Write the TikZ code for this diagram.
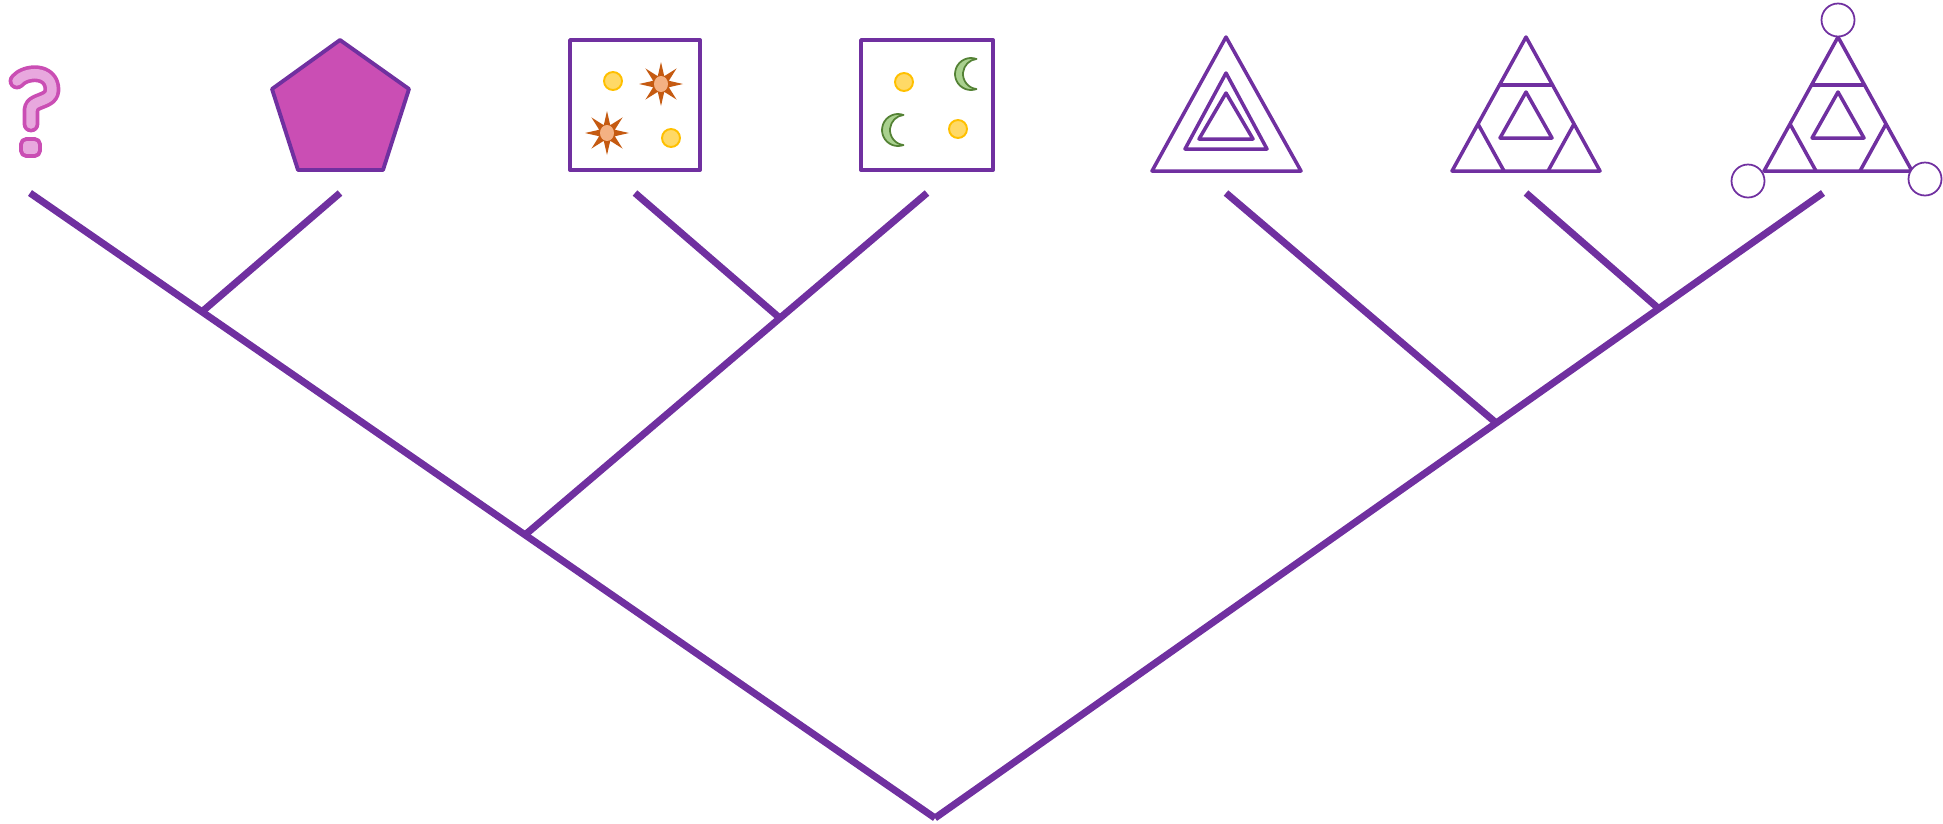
\documentclass[tikz,border=0pt]{standalone}
\usetikzlibrary{shapes.geometric,calc}
\definecolor{pourpre}{HTML}{7030A0}
\definecolor{rosefonce}{HTML}{CA4EB4}
\definecolor{roseclair}{HTML}{E8A8DE}
\definecolor{jaune}{HTML}{FFD966}
\definecolor{orjaune}{HTML}{FFC000}
\definecolor{orangefonce}{HTML}{C55A11}
\definecolor{orangeclair}{HTML}{F4B183}
\definecolor{vertclair}{HTML}{A9D18E}
\definecolor{vertfonce}{HTML}{548235}
\tikzset{
  branche/.style={draw=pourpre,line width=4pt},
  forme/.style={draw=pourpre,line width=2pt},
  cadre/.style={draw=pourpre,line width=2.2pt},
  soleil/.style={fill=jaune,draw=orjaune,line width=1.1pt},
  lune/.style={fill=vertclair,draw=vertfonce,line width=1pt},
  etoile/.style={star,star points=8,star point ratio=2.6,minimum size=0.88cm,inner sep=0pt,fill=orangefonce},
  anneau/.style={draw=pourpre,fill=white,line width=1pt}
}
% triangle decoupe (x du sommet)
\newcommand{\triinscrit}[1]{%
  \begin{scope}[shift={(#1,0)}]
    \draw[forme] (0,37) -- (74,171) -- (-74,171) -- cycle;
    \draw[forme] (-26.5,85) -- (26.5,85);
    \draw[forme] (-48,124) -- (-22,171);
    \draw[forme] (48,124) -- (22,171);
    \draw[forme] (0,92) -- (26,138) -- (-26,138) -- cycle;
  \end{scope}}
% croissant de lune
\newcommand{\croissant}[2]{%
  \begin{scope}[shift={(#1,#2)},yscale=-1]
    \filldraw[lune] (5.47,15.04) arc[start angle=70,end angle=290,radius=16]
      arc[start angle=263.7,end angle=96.3,radius=15.13] -- cycle;
  \end{scope}}

\begin{document}
\begin{tikzpicture}[x=0.02cm,y=-0.02cm,line join=round]
\useasboundingbox (0,0) rectangle (1943,823);
%points d'attache
\coordinate (racine) at (935,818);
\coordinate (fq) at (30,193);
\coordinate (fp) at (340,193);
\coordinate (fc1) at (635,193);
\coordinate (fc2) at (927,193);
\coordinate (ft1) at (1226,193);
\coordinate (ft2) at (1526,193);
\coordinate (ft3) at (1823,193);
\coordinate (jp) at ($(fq)!0.19!(racine)$);
\coordinate (jc2) at ($(fq)!0.547!(racine)$);
\coordinate (jc1) at ($(fc2)!0.366!(jc2)$);
\coordinate (jt2) at ($(ft3)!0.185!(racine)$);
\coordinate (jt1) at ($(ft3)!0.368!(racine)$);
%branches
\draw[branche] (fq) -- (racine);
\draw[branche] (ft3) -- (racine);
\draw[branche] (fp) -- (jp);
\draw[branche] (fc2) -- (jc2);
\draw[branche] (fc1) -- (jc1);
\draw[branche] (ft1) -- (jt1);
\draw[branche] (ft2) -- (jt2);
%point d'interrogation
\draw[rosefonce,line width=9.6pt,line cap=round] (17,81) .. controls (25,71) and (52,69) .. (52,90) .. controls (52,103) and (31,99) .. (31,110) -- (31,124);
\draw[roseclair,line width=5.4pt,line cap=round] (17,81) .. controls (25,71) and (52,69) .. (52,90) .. controls (52,103) and (31,99) .. (31,110) -- (31,124);
\draw[draw=rosefonce,fill=roseclair,line width=2.2pt,rounded corners=3pt] (21,139) rectangle (40,156);
%pentagone
\filldraw[fill=rosefonce,draw=pourpre,line width=2.2pt] (340,40) -- (409,89) -- (383,170) -- (298,170) -- (272,89) -- cycle;
%cadre 1
\draw[cadre] (570,40) rectangle (700,170);
\node[etoile] (e1) at (661,84) {};
\node[etoile] (e2) at (607,133) {};
\fill[orangeclair] (e1.center) ellipse (7 and 8);
\fill[orangeclair] (e2.center) ellipse (7 and 8);
\filldraw[soleil] (613,81) circle (9);
\filldraw[soleil] (671,138) circle (9);
%cadre 2
\draw[cadre] (861,40) rectangle (993,170);
\filldraw[soleil] (904,82) circle (9);
\filldraw[soleil] (958,129) circle (9);
\croissant{971}{74}
\croissant{898}{130}
%triangles
\draw[forme] (1226,37) -- (1301,171) -- (1152,171) -- cycle;
\draw[forme] (1226,73) -- (1267,149) -- (1185,149) -- cycle;
\draw[forme] (1226,93) -- (1253,139) -- (1199,139) -- cycle;
\triinscrit{1526}
\triinscrit{1838}
\draw[anneau] (1838,20) circle (16.5);
\draw[anneau] (1748,181) circle (16.5);
\draw[anneau] (1925,179) circle (16.5);
\end{tikzpicture}
\end{document}
